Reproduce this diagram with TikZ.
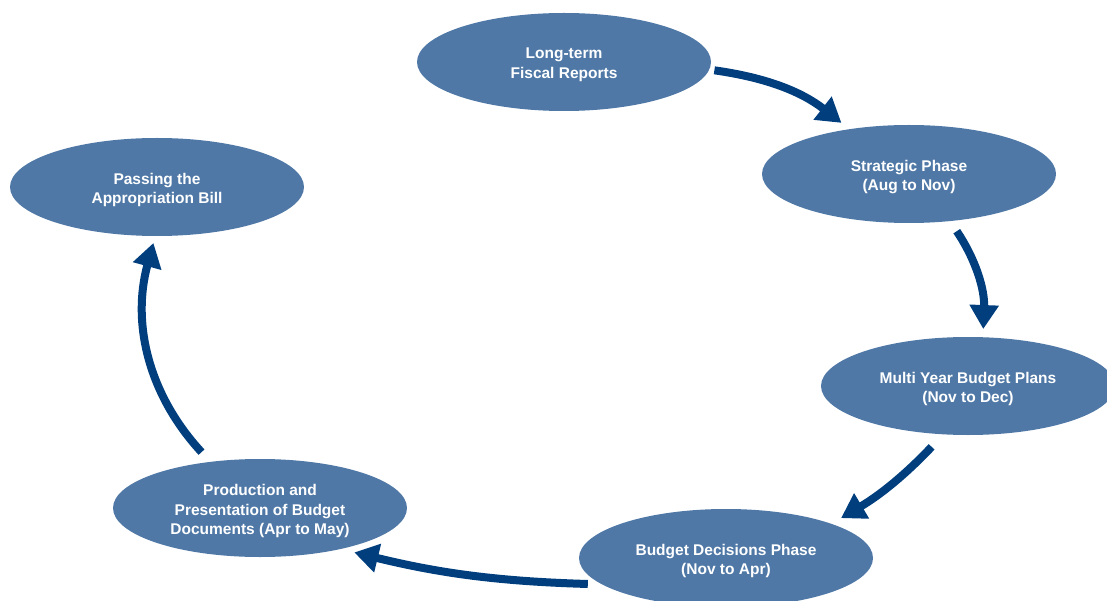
\documentclass[tikz,border=0pt]{standalone}
\usepackage{fontspec}
\setmainfont{Liberation Sans}
\usetikzlibrary{shapes.geometric,arrows.meta}
\definecolor{phasefill}{RGB}{79,120,166}
\definecolor{flowblue}{RGB}{0,62,126}
\begin{document}
\begin{tikzpicture}[x=1pt,y=-1pt,line join=round,
	phase/.style={ellipse,fill=phasefill,minimum width=294pt,minimum height=98pt,inner sep=0pt},
	phasetext/.style={text=white,align=center,yshift=-3pt,font=\fontsize{15.5}{19.5}\selectfont\bfseries},
	flow/.style={draw=flowblue,line width=8pt,-{Triangle[length=24pt,width=28pt]}}]
	\useasboundingbox (0,0) rectangle (1107,601);
	\foreach \n/\x/\y/\t in {lt/564/62/{Long-term\\Fiscal Reports},
		sp/909/174/{Strategic Phase\\(Aug to Nov)},
		my/968/386/{Multi Year Budget Plans\\(Nov to Dec)},
		bd/726/558/{Budget Decisions Phase\\(Nov to Apr)},
		pr/260/508/{Production and\\Presentation of Budget\\Documents (Apr to May)},
		pa/157/187/{Passing the\\Appropriation  Bill}}
	\node[phase,label={[phasetext]center:\t}] (\n) at (\x,\y) {};
	% arrows round the cycle
	\foreach \a/\s/\b/\e/\g/\p/\q in {lt/-3/sp/143/15/5/10,
		sp/-49/my/73/18/12/8,
		my/-117/bd/18/8/17/11,
		bd/192/pr/-27/6/14/14,
		pr/137/pa/-92/29/13/7}
	\draw[flow,shorten <=\p pt,shorten >=\q pt] (\a.\s) to[bend left=\g] (\b.\e);
\end{tikzpicture}
\end{document}
